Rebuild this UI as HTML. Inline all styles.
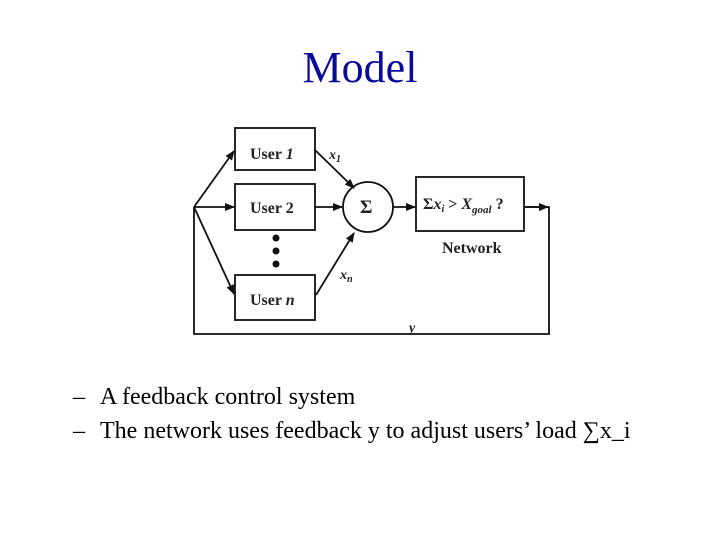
<!DOCTYPE html>
<html><head><style>
html,body{margin:0;padding:0;background:#fff;}
body{width:720px;height:540px;position:relative;overflow:hidden;font-family:"Liberation Serif",serif;}
.t{position:absolute;left:0;width:720px;text-align:center;top:42px;font-size:44px;color:#0a0a9a;}
.b{position:absolute;left:73px;font-size:24px;color:#000;white-space:nowrap;}
.b span{position:absolute;left:27px;}
</style></head><body>
<div class="t">Model</div>
<svg width="720" height="540" style="position:absolute;left:0;top:0">
<defs><marker id="a" markerWidth="10" markerHeight="8" refX="9" refY="4" orient="auto" markerUnits="userSpaceOnUse"><path d="M0,0 L10,4 L0,8 z" fill="#111"/></marker></defs>
<g stroke="#111" stroke-width="1.8" fill="none">
<rect x="235" y="128" width="80" height="42"/>
<rect x="235" y="184" width="80" height="46"/>
<rect x="235" y="275" width="80" height="45"/>
<circle cx="368" cy="207" r="25"/>
<rect x="416" y="177" width="108" height="54"/>
<polyline points="525,207 549,207 549,334 194,334 194,207"/>
<line x1="194" y1="207" x2="234" y2="151" marker-end="url(#a)"/>
<line x1="194" y1="207" x2="234" y2="207" marker-end="url(#a)"/>
<line x1="194" y1="207" x2="234" y2="294" marker-end="url(#a)"/>
<line x1="315" y1="150" x2="354" y2="188" marker-end="url(#a)"/>
<line x1="315" y1="207" x2="342" y2="207" marker-end="url(#a)"/>
<line x1="316" y1="295" x2="354" y2="233" marker-end="url(#a)"/>
<line x1="393" y1="207" x2="415" y2="207" marker-end="url(#a)"/>
<line x1="525" y1="207" x2="548" y2="207" marker-end="url(#a)"/>
</g>
<g fill="#111"><circle cx="276" cy="238" r="3.5"/><circle cx="276" cy="251" r="3.5"/><circle cx="276" cy="264" r="3.5"/></g>
<g font-family="Liberation Serif,serif" font-weight="bold" font-size="16" fill="#222">
<text x="250" y="159">User <tspan font-style="italic">1</tspan></text>
<text x="250" y="213">User 2</text>
<text x="250" y="305">User <tspan font-style="italic">n</tspan></text>
<text x="360" y="213" font-size="19">Σ</text>
<text x="423" y="209">Σ<tspan font-style="italic">x<tspan font-size="10" dy="3">i</tspan></tspan><tspan dy="-3"> &gt; </tspan><tspan font-style="italic">X<tspan font-size="11" dy="4">goal</tspan></tspan><tspan dy="-4"> ?</tspan></text>
<text x="442" y="253">Network</text>
<text x="329" y="159" font-style="italic" font-size="14">x<tspan font-size="10" dy="3">1</tspan></text>
<text x="340" y="279" font-style="italic" font-size="14">x<tspan font-size="10" dy="3">n</tspan></text>
<text x="409" y="332" font-style="italic" font-size="14">y</text>
</g>
</svg>
<div class="b" style="top:384px">–<span>A feedback control system</span></div>
<div class="b" style="top:418px">–<span>The network uses feedback y to adjust users’ load ∑x_i</span></div>
</body></html>
